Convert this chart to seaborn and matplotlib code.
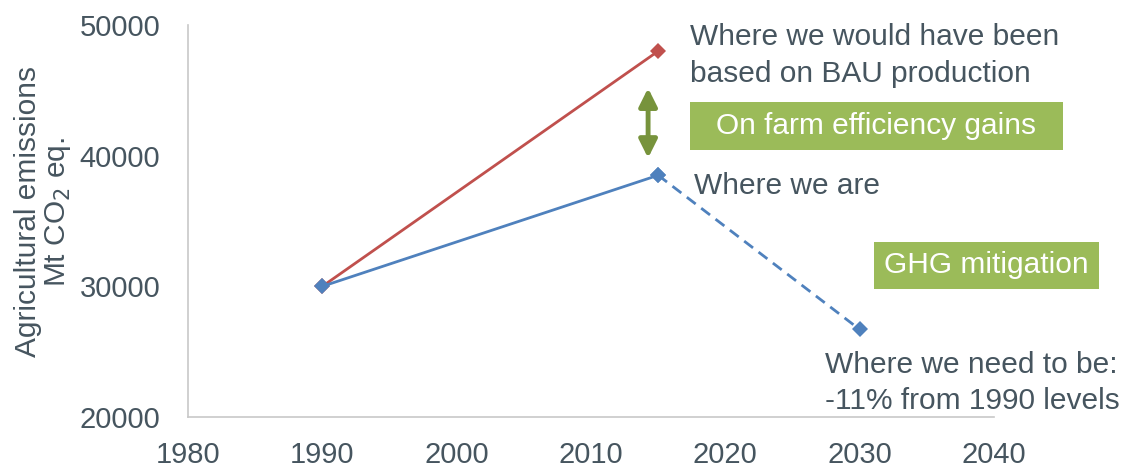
import matplotlib
matplotlib.use("Agg")
import matplotlib.pyplot as plt
from matplotlib.patches import Rectangle
import seaborn as sns
import pandas as pd

# Emission pathways (Mt CO2 eq.)
bau_years = [1990, 2015]
bau_values = [30000, 48000]
actual_years = [1990, 2015]
actual_values = [30000, 38500]
target_years = [2015, 2030]
target_values = [38500, 26700]

x_ticks = [1980, 1990, 2000, 2010, 2020, 2030, 2040]
y_ticks = [20000, 30000, 40000, 50000]

RED = "#C0504D"
BLUE = "#4F81BD"
GREEN_BOX = "#9BBB59"
GREEN_ARROW = "#77933C"
TEXT = "#46555F"
SPINE = "#C8C8C8"

sns.set_theme(style="white")
plt.rcParams["font.family"] = ["Liberation Sans", "DejaVu Sans"]

fig = plt.figure(figsize=(11.27, 4.71), dpi=100)
ax = fig.add_axes([188 / 1127, 54 / 471, (994 - 188) / 1127, (417 - 25) / 471])

bau = pd.DataFrame({"year": bau_years, "value": bau_values})
actual = pd.DataFrame({"year": actual_years, "value": actual_values})
target = pd.DataFrame({"year": target_years, "value": target_values})

sns.lineplot(data=bau, x="year", y="value", ax=ax, color=RED, lw=2,
             marker="D", markersize=8, markeredgewidth=0)
sns.lineplot(data=actual, x="year", y="value", ax=ax, color=BLUE, lw=2,
             marker="D", markersize=8, markeredgewidth=0)
sns.lineplot(data=target, x="year", y="value", ax=ax, color=BLUE, lw=2,
             marker="D", markersize=8, markeredgewidth=0, dashes=False,
             linestyle=(0, (4, 2.5)))

ax.set_xlim(1980, 2040)
ax.set_ylim(20000, 50000)
ax.set_xticks(x_ticks)
ax.set_yticks(y_ticks)
ax.tick_params(axis="both", length=0, labelsize=21, labelcolor=TEXT)
ax.tick_params(axis="y", pad=20)
ax.tick_params(axis="x", pad=17)
ax.set_xlabel("")
ax.set_ylabel("Agricultural emissions\nMt CO$_2$ eq.", fontsize=21.5,
              color=TEXT, linespacing=1.05)
ax.yaxis.set_label_coords(-0.143, 0.523)

for side in ("top", "right"):
    ax.spines[side].set_visible(False)
for side in ("left", "bottom"):
    ax.spines[side].set_color(SPINE)
    ax.spines[side].set_linewidth(1.2)

# Annotations
ax.text(2017.4, 47650, "Where we would have been\nbased on BAU production",
        fontsize=21.5, color=TEXT, va="center", ha="left", linespacing=1.4,
        clip_on=False)
ax.text(2017.7, 37700, "Where we are", fontsize=21.5, color=TEXT,
        va="center", ha="left", clip_on=False)
ax.text(2027.4, 22600, "Where we need to be:\n-11% from 1990 levels",
        fontsize=21.5, color=TEXT, va="center", ha="left", linespacing=1.35,
        clip_on=False)

# Green label boxes
box1 = Rectangle((2017.38, 40430), 2045.1 - 2017.38, 44100 - 40430,
                 facecolor=GREEN_BOX, edgecolor="none", clip_on=False)
ax.add_patch(box1)
ax.text((2017.38 + 2045.1) / 2, (40430 + 44100) / 2, "On farm efficiency gains",
        fontsize=21.5, color="white", ha="center", va="center", clip_on=False)

box2 = Rectangle((2031.08, 29800), 2047.83 - 2031.08, 33390 - 29800,
                 facecolor=GREEN_BOX, edgecolor="none", clip_on=False)
ax.add_patch(box2)
ax.text((2031.08 + 2047.83) / 2, (29800 + 33390) / 2, "GHG mitigation",
        fontsize=21.5, color="white", ha="center", va="center", clip_on=False)

# Double-headed arrow marking the efficiency gap
ax.annotate("", xy=(2014.25, 45170), xytext=(2014.25, 39820),
            arrowprops=dict(arrowstyle="<|-|>,head_length=0.9,head_width=0.45",
                            color=GREEN_ARROW, lw=3.5, shrinkA=0, shrinkB=0))

fig.savefig("out.png", dpi=100, facecolor="white")
